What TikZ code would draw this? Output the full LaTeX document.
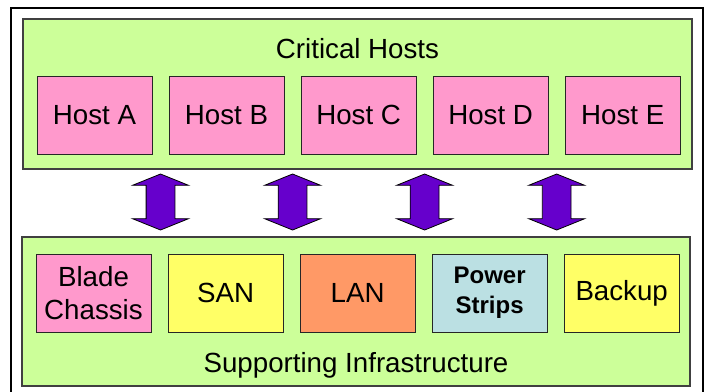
\documentclass[tikz,border=0pt]{standalone}
\usepackage{fontspec}
\setmainfont{Liberation Sans}
\usetikzlibrary{positioning,shapes.arrows,calc}
\definecolor{boxgreen}{HTML}{CCFF99}
\definecolor{hostpink}{HTML}{FF99CC}
\definecolor{sanyellow}{HTML}{FFFF66}
\definecolor{lanorange}{HTML}{FF9966}
\definecolor{powerblue}{HTML}{BBE0E3}
\definecolor{linkpurple}{HTML}{6600CC}
\begin{document}
\begin{tikzpicture}[x=1pt, y=-1pt, node distance=16.25pt,
    group node/.style={draw=black!75, line width=1.2pt, fill=boxgreen},
    item node/.style={draw=black!85, line width=0.8pt, minimum width=115pt, minimum height=78pt, inner sep=0pt, align=center},
    link arrow/.style={double arrow, draw=black, line width=0.8pt, fill=linkpurple, rotate=90, minimum height=56pt,
        inner xsep=0pt, inner ysep=14pt, double arrow head extend=13.5pt, double arrow tip angle=136, double arrow head indent=0pt}]
    \tikzstyle{every node}=[font=\fontsize{27.7}{33}\selectfont]

    \useasboundingbox (0,0) rectangle (708,391);
    \draw[line width=2pt] (11,8) rectangle (703,397);

    \node[group node, minimum width=669pt, minimum height=150pt] (crit) at (357.5,94) {};
    \node[group node, minimum width=668pt, minimum height=149pt] (infra) at (356,311.5) {};
    \node[anchor=base] (t1) at (357.5,58.5) {Critical Hosts};
    \node[anchor=base] (t2) at (356,372) {Supporting Infrastructure};

    % hosts
    \node[item node, fill=hostpink] (h1) at (94.5,115) {Host A};
    \node[item node, fill=hostpink] (h2) [right=of h1] {Host B};
    \node[item node, fill=hostpink] (h3) [right=of h2] {Host C};
    \node[item node, fill=hostpink] (h4) [right=of h3] {Host D};
    \node[item node, fill=hostpink] (h5) [right=of h4] {Host E};

    % infrastructure
    \node[item node, fill=hostpink] (s1) at (93.5,293) {Blade\\Chassis};
    \node[item node, fill=sanyellow] (s2) [right=of s1] {SAN};
    \node[item node, fill=lanorange] (s3) [right=of s2] {LAN};
    \node[item node, fill=powerblue, font=\fontsize{24}{30}\selectfont\bfseries] (s4) [right=of s3] {Power\\Strips};
    \node[item node, fill=sanyellow] (s5) [right=of s4] {Backup};

    \foreach \a/\b in {1/2,2/3,3/4,4/5}
        \node[link arrow] (l\a) at ($(h\a)!0.5!(h\b)+(0,87)$) {};
\end{tikzpicture}
\end{document}
